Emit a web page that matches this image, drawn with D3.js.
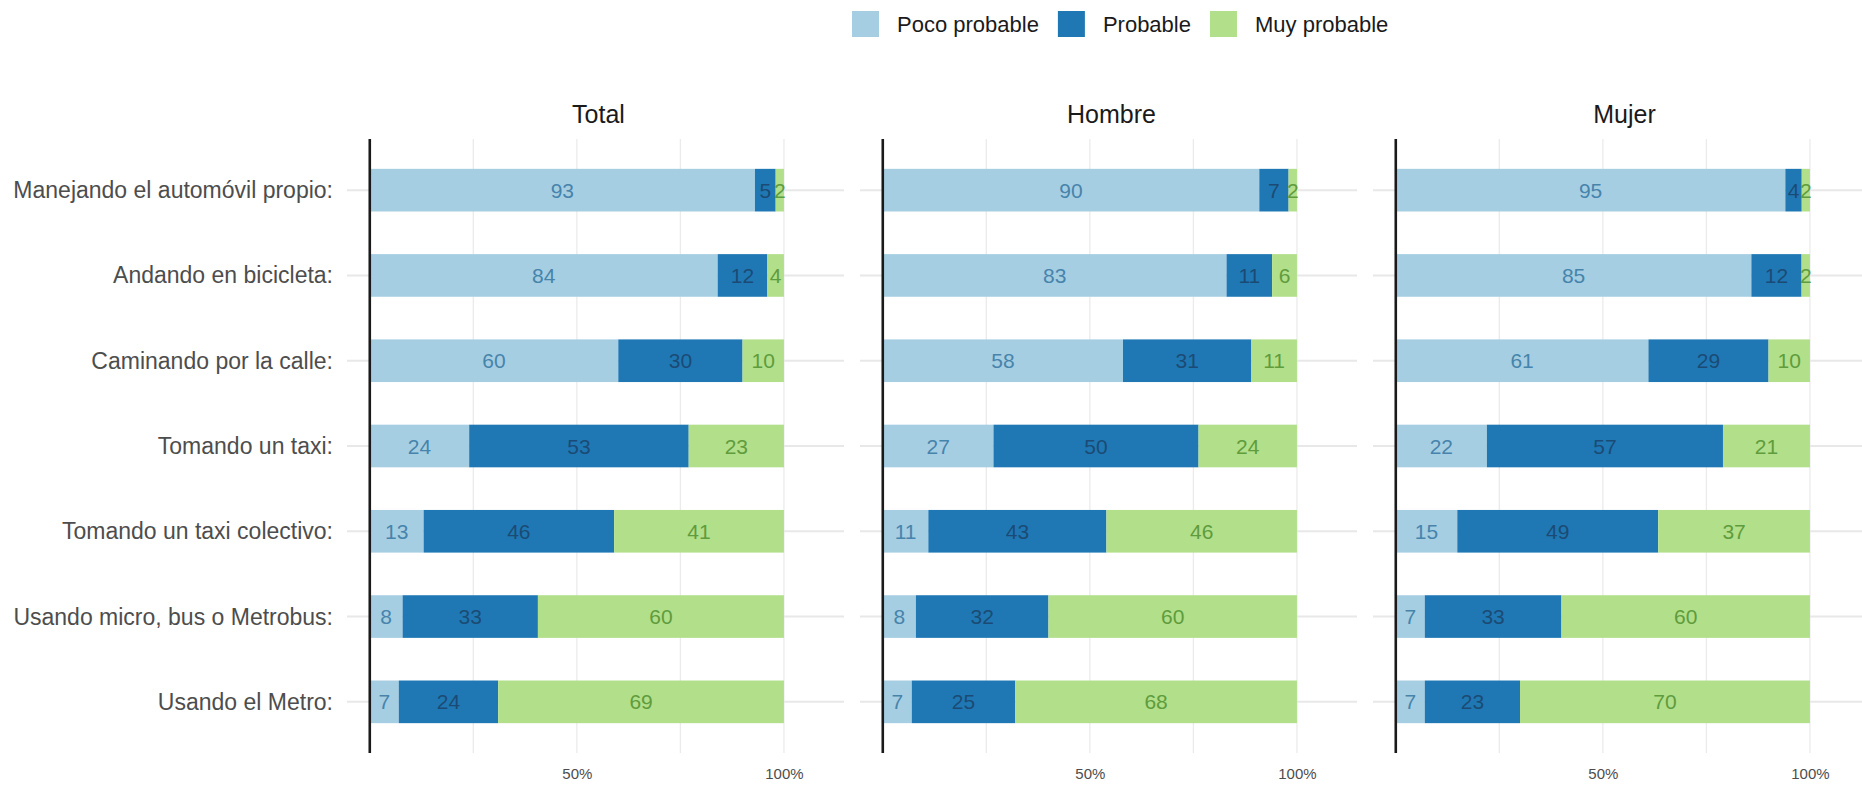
<!DOCTYPE html>
<html>
<head>
<meta charset="utf-8">
<script src="https://cdn.jsdelivr.net/npm/d3@7"></script>
<style>
  html, body { margin: 0; padding: 0; background: #ffffff; }
  svg { display: block; }
  text { font-family: "Liberation Sans", Arial, Helvetica, sans-serif; }
</style>
</head>
<body>
<svg id="chart" width="1862" height="785"></svg>
<script>
// ---------- DATA ----------
const categories = [
  "Manejando el automóvil propio:",
  "Andando en bicicleta:",
  "Caminando por la calle:",
  "Tomando un taxi:",
  "Tomando un taxi colectivo:",
  "Usando micro, bus o Metrobus:",
  "Usando el Metro:"
];
const levels = ["Poco probable", "Probable", "Muy probable"];
const panels = ["Total", "Hombre", "Mujer"];

// values per category: [Poco probable, Probable, Muy probable]
const totalValues = [
  [93, 5, 2], [84, 12, 4], [60, 30, 10], [24, 53, 23],
  [13, 46, 41], [8, 33, 60], [7, 24, 69]
];
const hombreValues = [
  [90, 7, 2], [83, 11, 6], [58, 31, 11], [27, 50, 24],
  [11, 43, 46], [8, 32, 60], [7, 25, 68]
];
const mujerValues = [
  [95, 4, 2], [85, 12, 2], [61, 29, 10], [22, 57, 21],
  [15, 49, 37], [7, 33, 60], [7, 23, 70]
];
const xTickValues = [0.5, 1.0];
const xTickLabels = ["50%", "100%"];
const gridValues = [0.25, 0.5, 0.75, 1.0];

// ---------- STYLE ----------
const fillColors = ["#a6cee3", "#1f78b4", "#b2df8a"];
const labelColors = ["#4784ab", "#1b4b75", "#5f9c3d"];

const svg = d3.select("#chart");

const panelValues = [totalValues, hombreValues, mujerValues];
const panelLeft = [347, 860, 1373];
const panelWidth = 497;
const panelTop = 139, panelBottom = 753;

const x = d3.scaleLinear().domain([-0.055, 1.145]).range([0, panelWidth]);
const y = d3.scaleBand().domain(categories)
  .range([panelTop, panelBottom]).paddingInner(0.5).paddingOuter(0.35);

// ---------- LEGEND ----------
const legend = svg.append("g");
let lx = 852;
levels.forEach((lv, i) => {
  legend.append("rect").attr("x", lx).attr("y", 11).attr("width", 27).attr("height", 26)
    .attr("fill", fillColors[i]);
  const t = legend.append("text").attr("x", lx + 45).attr("y", 24)
    .attr("dominant-baseline", "central")
    .attr("font-size", 22).attr("fill", "#1a1a1a").text(lv);
  lx += 45 + t.node().getComputedTextLength() + 19;
});

// ---------- PANELS ----------
panels.forEach((pname, p) => {
  const g = svg.append("g").attr("transform", `translate(${panelLeft[p]},0)`);
  const vals = panelValues[p];

  // title
  g.append("text").attr("x", panelWidth / 2 + 3).attr("y", 123)
    .attr("text-anchor", "middle").attr("font-size", 25).attr("fill", "#1a1a1a")
    .text(pname);

  // vertical grid
  g.selectAll("line.vgrid").data(gridValues).join("line")
    .attr("x1", d => x(d)).attr("x2", d => x(d))
    .attr("y1", panelTop).attr("y2", panelBottom)
    .attr("stroke", "#ebebeb").attr("stroke-width", 1.3);

  // horizontal grid
  g.selectAll("line.hgrid").data(categories).join("line")
    .attr("x1", 0).attr("x2", panelWidth)
    .attr("y1", d => y(d) + y.bandwidth() / 2).attr("y2", d => y(d) + y.bandwidth() / 2)
    .attr("stroke", "#e8e8e8").attr("stroke-width", 2);

  // stacked (fill-normalised) segments
  const segs = [];
  categories.forEach((c, ci) => {
    const row = vals[ci];
    const sum = d3.sum(row);
    let cum = 0;
    row.forEach((v, li) => {
      segs.push({ cat: c, li, v, x0: cum / sum, x1: (cum + v) / sum });
      cum += v;
    });
  });

  g.selectAll("rect.bar").data(segs).join("rect")
    .attr("x", d => x(d.x0)).attr("width", d => x(d.x1) - x(d.x0))
    .attr("y", d => y(d.cat)).attr("height", y.bandwidth())
    .attr("fill", d => fillColors[d.li]);

  g.selectAll("text.lbl").data(segs).join("text")
    .attr("x", d => x((d.x0 + d.x1) / 2))
    .attr("y", d => y(d.cat) + y.bandwidth() / 2)
    .attr("text-anchor", "middle").attr("dominant-baseline", "central")
    .attr("font-size", 21).attr("fill", d => labelColors[d.li])
    .text(d => d.v);

  // black zero line
  g.append("line").attr("x1", x(0)).attr("x2", x(0))
    .attr("y1", panelTop).attr("y2", panelBottom)
    .attr("stroke", "#1a1a1a").attr("stroke-width", 2.6);

  // x axis
  const xAxis = d3.axisBottom(x).tickValues(xTickValues)
    .tickFormat((d, i) => xTickLabels[i]).tickSize(0).tickPadding(15);
  const ax = g.append("g").attr("transform", `translate(0,${panelBottom})`).call(xAxis);
  ax.select(".domain").remove();
  ax.selectAll("text").attr("font-size", 15).attr("fill", "#4d4d4d")
    .attr("font-family", "\"Liberation Sans\", Arial, sans-serif");

  // y axis (only on first panel)
  if (p === 0) {
    const yAxis = d3.axisLeft(y).tickSize(0).tickPadding(14);
    const ay = g.append("g").call(yAxis);
    ay.select(".domain").remove();
    ay.selectAll("text").attr("font-size", 23).attr("fill", "#4d4d4d")
      .attr("dy", null).attr("dominant-baseline", "central")
      .attr("font-family", "\"Liberation Sans\", Arial, sans-serif");
  }
});
</script>
</body>
</html>
